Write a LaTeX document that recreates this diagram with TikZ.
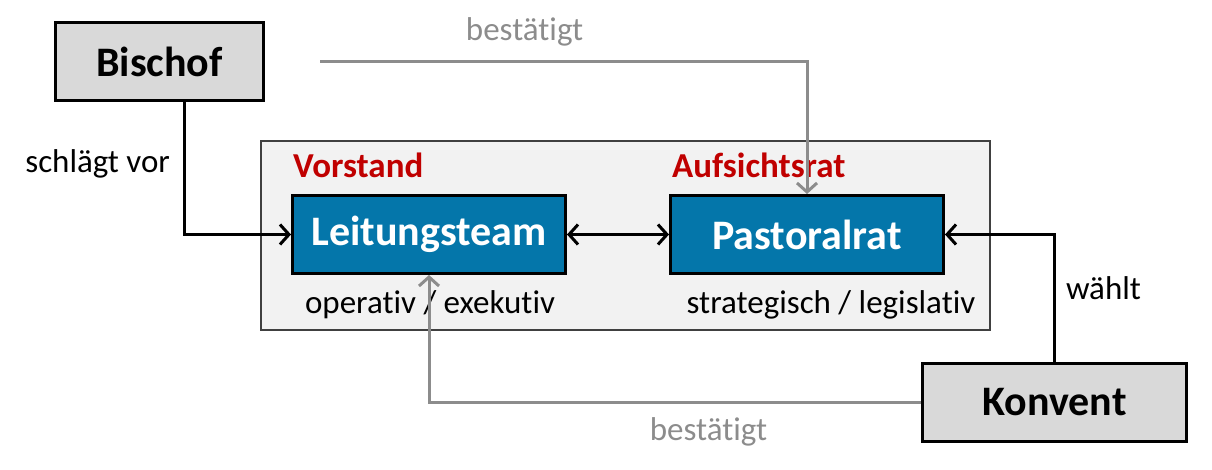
\documentclass[tikz,border=0pt]{standalone}
\usepackage{fontspec}
\setmainfont{Carlito}[Ligatures={NoCommon}]
\usetikzlibrary{arrows.meta,positioning}
\definecolor{boxblue}{RGB}{4,118,170}
\definecolor{darkred}{RGB}{192,0,0}
\definecolor{linegray}{RGB}{140,140,140}
\tikzset{
    grey-box/.style = {draw=black, fill=black!15, line width=3pt, minimum width=208pt, minimum height=78pt, font=\fontsize{42}{48}\selectfont\bfseries},
    blue-box/.style = {draw=black, fill=boxblue, text=white, line width=3pt, minimum width=273pt, minimum height=78pt, font=\fontsize{42}{48}\selectfont\bfseries},
    red-label/.style = {text=darkred, anchor=west, inner sep=0pt, font=\fontsize{35}{40}\selectfont\bfseries},
    plain-label/.style = {inner sep=0pt, font=\fontsize{33}{38}\selectfont},
    grey-label/.style = {plain-label, text=linegray},
    black-arrow/.style = {draw=black, line width=3pt, -{Straight Barb[length=9pt,width=20pt]}},
    grey-arrow/.style = {draw=linegray, line width=3pt, -{Straight Barb[length=9pt,width=20pt]}},
}
\begin{document}
\begin{tikzpicture}[x=1pt,y=-1pt]
\useasboundingbox (0,0) rectangle (1212,470);
\filldraw[fill=black!5, draw=black!75, line width=1.5pt] (261,141) rectangle (990,330);

\node[grey-box] (bischof) at (159.5,61.5) {Bischof};
\node[grey-box, minimum width=264pt] (konvent) at (1054.5,402) {Konvent};
\node[blue-box] (leitung) at (429,234.5) {Leitungsteam};
\node[blue-box] (pastoral) at (807,234.5) {Pastoralrat};

\node[red-label] (vorstand) at (293,165) {Vorstand};
\node[red-label] (aufsicht) at (672,165) {Aufsichtsrat};
\node[plain-label] (operativ) at (430,305) {operativ / exekutiv};
\node[plain-label] (strategisch) at (831,305) {strategisch / legislativ};

\draw[black-arrow] ([xshift=25pt]bischof.south) |- (leitung.west)
    node[plain-label, pos=0.235, left=13pt] (vor) {schlägt vor};
\draw[grey-arrow] ([xshift=55pt]bischof.east) -| (pastoral.north)
    node[grey-label, pos=0.21, above=14pt] (best1) {bestätigt};
\draw[black-arrow, {Straight Barb[length=9pt,width=20pt]}-{Straight Barb[length=9pt,width=20pt]}] (leitung.east) -- (pastoral.west);
\draw[black-arrow] (konvent.north) |- (pastoral.east)
    node[plain-label, pos=0.29, right=10pt] (waehlt) {wählt};
\draw[grey-arrow] (konvent.west) -| (leitung.south)
    node[grey-label, pos=0.216, below=14pt] (best2) {bestätigt};
\end{tikzpicture}
\end{document}
